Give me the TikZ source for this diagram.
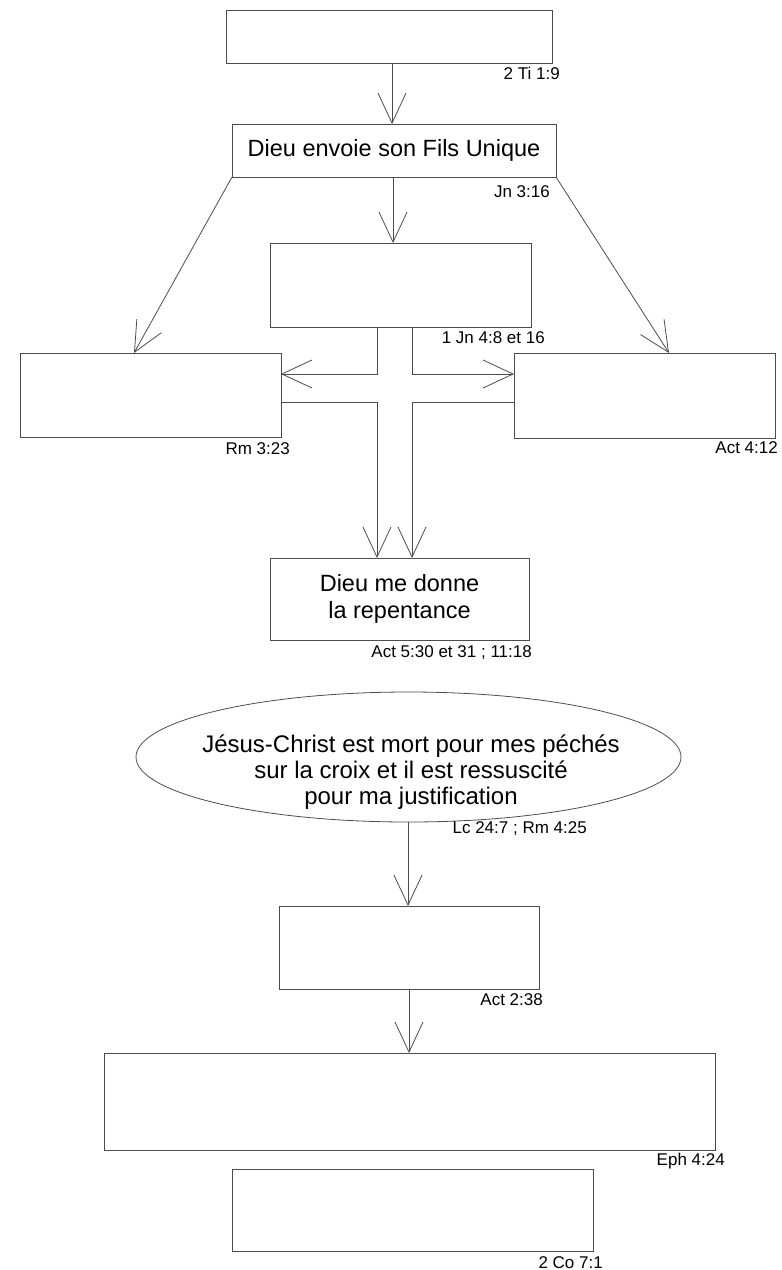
\documentclass[tikz,border=0pt]{standalone}
\usepackage{fontspec}
\setmainfont{Liberation Sans}
\usetikzlibrary{arrows.meta,shapes.geometric}
\begin{document}
\begin{tikzpicture}[x=1pt,y=-1pt,
  box/.style={draw=black!70, line width=0.8pt, rectangle, inner sep=0pt, outer sep=0pt, align=center, font=\fontsize{23.5}{27}\selectfont},
  refl/.style={anchor=base east, inner sep=0pt, font=\fontsize{17}{19}\selectfont},
  arr/.style={draw=black!70, line width=0.8pt, -{Straight Barb[length=30pt,width=28pt]}}]
\useasboundingbox (0,0) rectangle (782,1270);
% boxes
\node[box, minimum width=326, minimum height=53] (n1) at (389,36.5) {};
\node[box, minimum width=324, minimum height=53] (n2) at (394,150.5) {Dieu envoie son Fils Unique};
\node[box, minimum width=261, minimum height=84] (n3) at (400.5,285) {};
\node[box, minimum width=261, minimum height=84] (lb) at (150.5,395) {};
\node[box, minimum width=261, minimum height=85] (rb) at (644.5,395.5) {};
\node[box, minimum width=259, minimum height=82] (rep) at (399.5,599) {Dieu me donne\\la repentance};
\node[draw=black!70, line width=0.8pt, ellipse, inner sep=0pt, minimum width=545, minimum height=130] (ell) at (408.5,757) {};
\node[align=center, inner sep=0pt, font=\fontsize{24}{26}\selectfont] (elltext) at (411,772) {Jésus-Christ est mort pour mes péchés\\sur la croix et il est ressuscité\\pour ma justification};
\node[box, minimum width=260, minimum height=83] (act) at (409,947.5) {};
\node[box, minimum width=611, minimum height=97] (eph) at (409.5,1101.5) {};
\node[box, minimum width=361, minimum height=82] (co) at (412.5,1210) {};
% references
\node[refl] (r1) at (560,79) {2 Ti 1:9};
\node[refl] (r2) at (550,197) {Jn 3:16};
\node[refl] (r3) at (545,343) {1 Jn 4:8 et 16};
\node[refl] (r4) at (290,454) {Rm 3:23};
\node[refl] (r5) at (778,453) {Act 4:12};
\node[refl] (r6) at (532,657) {Act 5:30 et 31 ; 11:18};
\node[refl] (r7) at (587,833) {Lc 24:7 ; Rm 4:25};
\node[refl] (r8) at (543,1005) {Act 2:38};
\node[refl] (r9) at (725,1165) {Eph 4:24};
\node[refl] (r10) at (603,1268) {2 Co 7:1};
% helper coordinates
\coordinate (a1) at (392,0);
\coordinate (a2) at (393,0);
\coordinate (tl) at (134,0);
\coordinate (tr) at (669,0);
\coordinate (cl) at (377,374);
\coordinate (cr) at (412,374);
\coordinate (dl) at (377,402);
\coordinate (dr) at (412,402);
\coordinate (a3) at (408,0);
\coordinate (a4) at (409,0);
% connectors
\draw[arr] (n1.south -| a1) -- (n2.north -| a1);
\draw[arr] (n2.south -| a2) -- (n3.north -| a2);
\draw[arr] (n2.south west) -- (lb.north -| tl);
\draw[arr] (n2.south east) -- (rb.north -| tr);
\draw[arr] (n3.south -| cl) -- (cl) -- (lb.east |- cl);
\draw[arr] (n3.south -| cr) -- (cr) -- (rb.west |- cr);
\draw[arr] (lb.east |- dl) -- (dl) -- (rep.north -| dl);
\draw[arr] (rb.west |- dr) -- (dr) -- (rep.north -| dr);
\draw[arr] (ell.south -| a3) -- (act.north -| a3);
\draw[arr] (act.south -| a4) -- (eph.north -| a4);
\end{tikzpicture}
\end{document}
